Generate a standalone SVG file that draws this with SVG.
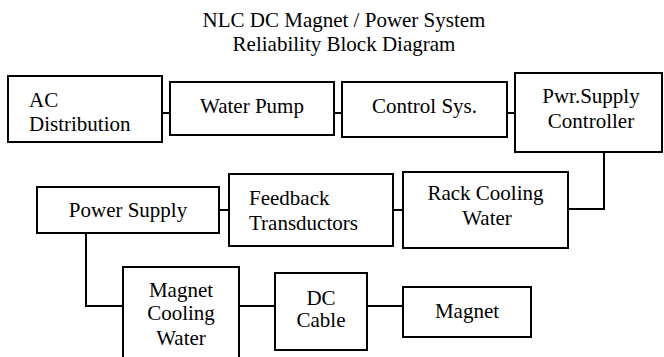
<svg xmlns="http://www.w3.org/2000/svg" width="664" height="357" viewBox="0 0 664 357">
<style>
.box{fill:#fff;stroke:#000;stroke-width:2}
.ln{fill:none;stroke:#000;stroke-width:2}
text{font-family:'Liberation Serif','Times New Roman','DejaVu Serif',serif;font-size:21px;fill:#000}
.c{text-anchor:middle}
</style>
<rect width="664" height="357" fill="#fff"/>
<g id="title" font-family="Liberation Serif, Times New Roman, serif">
<text class="c" x="344" y="27">NLC DC Magnet / Power System</text>
<text class="c" x="344" y="51">Reliability Block Diagram</text>
</g>
<g id="connectors">
<line class="ln" x1="162" y1="113" x2="170" y2="113"/>
<line class="ln" x1="334" y1="113" x2="342" y2="113"/>
<line class="ln" x1="507" y1="113" x2="515" y2="113"/>
<polyline class="ln" points="604,152 604,209 568,209"/>
<line class="ln" x1="393" y1="210" x2="403" y2="210"/>
<line class="ln" x1="219" y1="210" x2="229" y2="210"/>
<polyline class="ln" points="86,233 86,306 123,306"/>
<line class="ln" x1="239" y1="306" x2="275" y2="306"/>
<line class="ln" x1="367" y1="306" x2="403" y2="306"/>
</g>
<g id="ac">
<rect class="box" x="8" y="76" width="154" height="66"/>
<text x="29" y="107">AC</text>
<text x="29" y="131">Distribution</text>
</g>
<g id="pump">
<rect class="box" x="170" y="82" width="164" height="53"/>
<text class="c" x="252" y="113">Water Pump</text>
</g>
<g id="control">
<rect class="box" x="342" y="82" width="165" height="55"/>
<text class="c" x="424.5" y="113">Control Sys.</text>
</g>
<g id="psc">
<rect class="box" x="515" y="73" width="147" height="79"/>
<text class="c" x="591" y="103">Pwr.Supply</text>
<text class="c" x="591" y="128">Controller</text>
</g>
<g id="rack">
<rect class="box" x="403" y="172" width="165" height="76"/>
<text class="c" x="485.5" y="200">Rack Cooling</text>
<text class="c" x="487" y="225">Water</text>
</g>
<g id="feedback">
<rect class="box" x="229" y="174" width="164" height="72"/>
<text x="249" y="205">Feedback</text>
<text x="249" y="230">Transductors</text>
</g>
<g id="ps">
<rect class="box" x="37" y="187" width="182" height="46"/>
<text class="c" x="128" y="217">Power Supply</text>
</g>
<g id="mcw">
<rect class="box" x="123" y="267" width="116" height="100"/>
<text class="c" x="181" y="297">Magnet</text>
<text class="c" x="181" y="320">Cooling</text>
<text class="c" x="181" y="345">Water</text>
</g>
<g id="dc">
<rect class="box" x="275" y="273" width="92" height="77"/>
<text class="c" x="321" y="305">DC</text>
<text class="c" x="321" y="327">Cable</text>
</g>
<g id="magnet">
<rect class="box" x="403" y="287" width="128" height="50"/>
<text class="c" x="467" y="318">Magnet</text>
</g>
</svg>
